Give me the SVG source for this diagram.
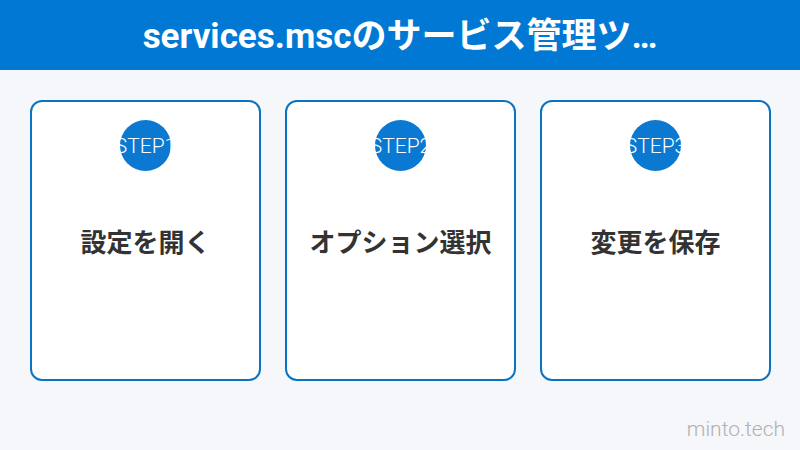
<svg xmlns="http://www.w3.org/2000/svg" width="800" height="450" viewBox="0 0 800 450">
<style>
.card{fill:#fff;stroke:#0a73c2;stroke-width:2}
.badge{fill:#0b78d1}
.step{font-family:Roboto,"Noto Sans",sans-serif;font-size:21px;font-weight:300;fill:#fff;text-anchor:middle}
.label{font-family:"Noto Sans CJK JP","Noto Sans",sans-serif;font-size:26px;font-weight:bold;fill:#333;text-anchor:middle}
</style>
<rect width="800" height="450" fill="#f5f7fa"/>
<rect width="800" height="70" fill="#0078d4"/>
<text x="400" y="48" font-family="Roboto,'Noto Sans CJK JP',sans-serif" font-size="35" font-weight="bold" fill="#fff" text-anchor="middle">services.mscのサービス管理ツ…</text>
<g id="connectors"></g>
<g id="step1">
<rect class="card" x="31" y="101" width="229" height="279" rx="11"/>
<circle class="badge" cx="145.5" cy="145.5" r="25.5"/>
<text class="step" x="145.5" y="153">STEP1</text>
<text class="label" x="145.5" y="252">設定を開く</text>
</g>
<g id="step2">
<rect class="card" x="286" y="101" width="229" height="279" rx="11"/>
<circle class="badge" cx="400.5" cy="145.5" r="25.5"/>
<text class="step" x="400.5" y="153">STEP2</text>
<text class="label" x="400.5" y="252">オプション選択</text>
</g>
<g id="step3">
<rect class="card" x="541" y="101" width="229" height="279" rx="11"/>
<circle class="badge" cx="655.5" cy="145.5" r="25.5"/>
<text class="step" x="655.5" y="153">STEP3</text>
<text class="label" x="655.5" y="252">変更を保存</text>
</g>
<text x="785" y="436" font-family="Roboto,'Noto Sans',sans-serif" font-size="21" font-weight="300" fill="#b0b0b0" text-anchor="end">minto.tech</text>
</svg>
